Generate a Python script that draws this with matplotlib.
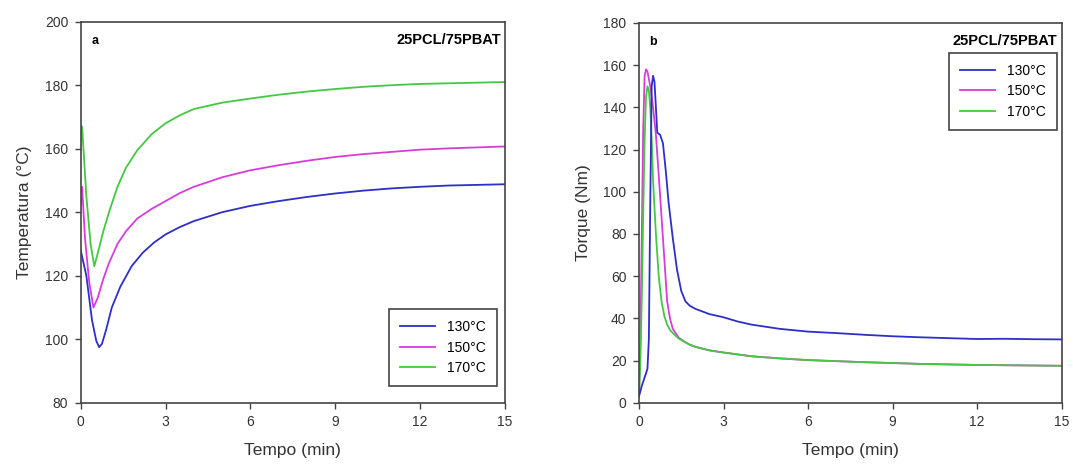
import numpy as np
import matplotlib.pyplot as plt

plt.rcParams['font.family'] = ['Liberation Sans', 'DejaVu Sans']

## Data (a): temperature vs time
t130_a = [0, 0.2, 0.4, 0.55, 0.65, 0.75, 0.9, 1.1, 1.4, 1.8, 2.2, 2.6, 3, 3.5, 4, 5, 6, 7, 8, 9, 10, 11, 12, 13, 14, 15]
T130 = [128, 120, 106, 99.5, 97.5, 98.5, 103, 110, 116.5, 123, 127.3, 130.5, 133, 135.3, 137.2, 140, 142, 143.5, 144.8, 145.9, 146.8, 147.5, 148, 148.4, 148.6, 148.8]
t150_a = [0, 0.05, 0.15, 0.3, 0.45, 0.6, 0.8, 1.0, 1.3, 1.6, 2.0, 2.5, 3, 3.5, 4, 5, 6, 7, 8, 9, 10, 11, 12, 13, 14, 15]
T150 = [142, 148, 132, 118, 110, 113, 119, 124, 130, 134, 138, 141, 143.5, 146, 148, 151, 153.2, 154.8, 156.2, 157.4, 158.3, 159, 159.7, 160.1, 160.4, 160.7]
t170_a = [0, 0.05, 0.2, 0.35, 0.48, 0.6, 0.8, 1.0, 1.3, 1.6, 2.0, 2.5, 3, 3.5, 4, 5, 6, 7, 8, 9, 10, 11, 12, 13, 14, 15]
T170 = [160, 167, 145, 130, 123, 127, 134, 140, 148, 154, 159.5, 164.5, 168, 170.5, 172.5, 174.5, 175.8, 177, 178, 178.8, 179.5, 180, 180.4, 180.6, 180.8, 181]

## Data (b): torque vs time
t130_b = [0, 0.1, 0.2, 0.3, 0.35, 0.4, 0.45, 0.5, 0.55, 0.6, 0.65, 0.75, 0.85, 0.95, 1.05, 1.2, 1.35, 1.5, 1.65, 1.8, 2.0, 2.5, 3, 3.5, 4, 5, 6, 7, 8, 9, 10, 11, 12, 13, 14, 15]
Q130 = [3, 8, 12, 16, 30, 95, 150, 155, 152, 140, 128, 127, 123, 110, 95, 78, 63, 53, 48, 46, 44.5, 42, 40.5, 38.5, 37, 35, 33.7, 33, 32.2, 31.5, 31, 30.6, 30.2, 30.3, 30.1, 30]
t150_b = [0, 0.05, 0.1, 0.15, 0.2, 0.25, 0.3, 0.4, 0.5, 0.6, 0.7, 0.8, 0.9, 1.0, 1.1, 1.2, 1.4, 1.6, 1.8, 2.0, 2.5, 3, 4, 5, 6, 8, 10, 12, 15]
Q150 = [3, 30, 80, 130, 155, 158, 157, 150, 140, 127, 108, 88, 68, 48, 40, 35, 31, 29, 27.5, 26.5, 24.8, 23.8, 22, 21, 20.2, 19.2, 18.4, 17.9, 17.5]
t170_b = [0, 0.05, 0.1, 0.15, 0.2, 0.25, 0.3, 0.35, 0.4, 0.45, 0.5, 0.6, 0.7, 0.8, 0.9, 1.0, 1.1, 1.2, 1.4, 1.6, 1.8, 2.0, 2.5, 3, 4, 5, 6, 8, 10, 12, 15]
Q170 = [3, 20, 50, 90, 125, 145, 150, 148, 140, 125, 105, 80, 60, 48, 41, 37, 34.5, 33, 30.5, 29, 27.5, 26.5, 24.8, 23.8, 22, 21, 20.2, 19.2, 18.4, 17.9, 17.5]

labels = ['130°C', '150°C', '170°C']
colors = ['#2e2ec8', '#d83cd8', '#44c844']
gray = '#444444'

fig = plt.figure(figsize=(10.73, 4.65), dpi=100)
ax1 = fig.add_axes([80.7 / 1073, 1 - 402.7 / 465, 424.3 / 1073, 381 / 465])
ax2 = fig.add_axes([639 / 1073, 1 - 402.7 / 465, 422.5 / 1073, 379.7 / 465])

leg_kw = dict(borderaxespad=0, fontsize=10, handlelength=2.5, handletextpad=0.85,
              fancybox=False, framealpha=1, borderpad=0.8, labelspacing=0.45)

## Panel a
for t, y, c, lab in zip([t130_a, t150_a, t170_a], [T130, T150, T170], colors, labels):
    ax1.plot(t, y, color=c, lw=1.3, label=lab)
ax1.set_xlim(0, 15)
ax1.set_ylim(80, 200)
ax1.set_yticks(np.arange(80, 201, 20))
ax1.set_ylabel('Temperatura (°C)', fontsize=12.5, color='#333333', labelpad=9)
leg1 = ax1.legend(loc='lower right', bbox_to_anchor=(0.98, 0.044), **leg_kw)
ax1.text(0.025, 0.965, 'a', transform=ax1.transAxes, fontsize=9, fontweight='bold', va='top')

## Panel b
for t, y, c, lab in zip([t130_b, t150_b, t170_b], [Q130, Q150, Q170], colors, labels):
    ax2.plot(t, y, color=c, lw=1.3, label=lab)
ax2.lines[0].set_zorder(3)
ax2.set_xlim(0, 15)
ax2.set_ylim(0, 180)
ax2.set_yticks(np.arange(0, 181, 20))
ax2.set_ylabel('Torque (Nm)', fontsize=12.5, color='#333333', labelpad=9)
leg2 = ax2.legend(loc='upper right', bbox_to_anchor=(0.9886, 0.921), **leg_kw)
ax2.text(0.025, 0.965, 'b', transform=ax2.transAxes, fontsize=9, fontweight='bold', va='top')

for ax, leg in [(ax1, leg1), (ax2, leg2)]:
    ax.set_xticks(np.arange(0, 16, 3))
    ax.set_xlabel('Tempo (min)', fontsize=12.5, color='#333333', labelpad=10)
    ax.tick_params(direction='out', length=4, width=1, colors=gray, labelsize=10,
                   labelcolor='#333333', pad=5)
    for s in ax.spines.values():
        s.set_color(gray)
        s.set_linewidth(1.2)
    ax.text(0.99, 0.97, '25PCL/75PBAT', transform=ax.transAxes, fontsize=10.5,
            fontweight='bold', ha='right', va='top')
    leg.get_frame().set_edgecolor(gray)
    leg.get_frame().set_linewidth(1.2)

fig.savefig('out.png', dpi=100)
